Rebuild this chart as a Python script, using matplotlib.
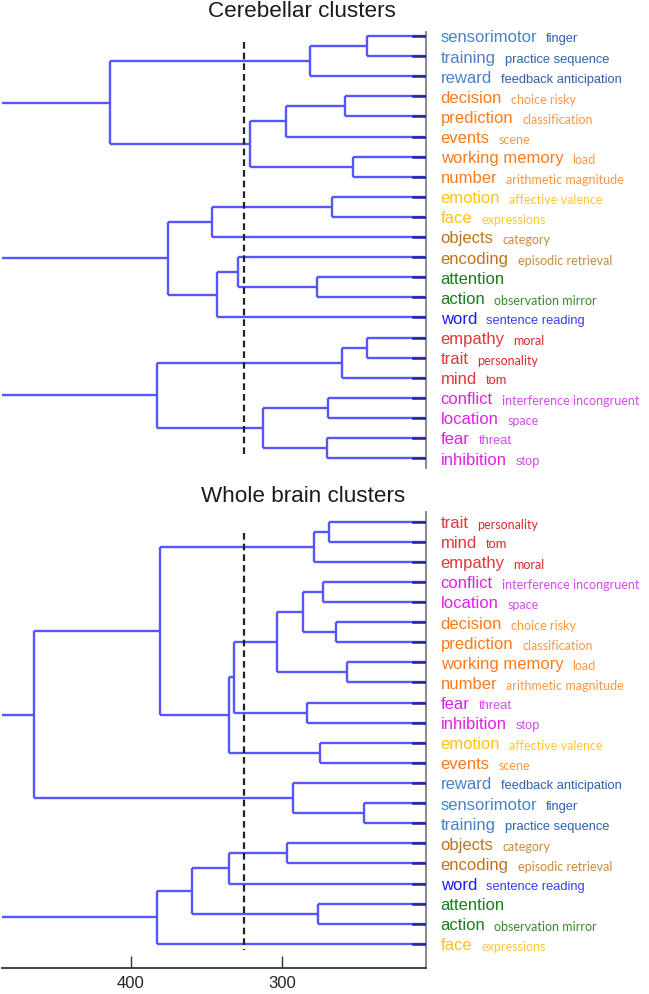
import matplotlib
matplotlib.use("Agg")
import matplotlib.pyplot as plt

plt.rcParams['font.family'] = ['Liberation Sans', 'DejaVu Sans']

# ---------------- data ----------------
term_sub = {
    "sensorimotor": "finger", "training": "practice sequence", "reward": "feedback anticipation",
    "decision": "choice risky", "prediction": "classification", "events": "scene",
    "working memory": "load", "number": "arithmetic magnitude",
    "emotion": "affective valence", "face": "expressions",
    "objects": "category", "encoding": "episodic retrieval",
    "attention": "", "action": "observation mirror",
    "word": "sentence reading",
    "empathy": "moral", "trait": "personality", "mind": "tom",
    "conflict": "interference incongruent", "location": "space", "fear": "threat", "inhibition": "stop",
}
term_cat = {
    "sensorimotor": "motor", "training": "motor", "reward": "motor",
    "decision": "exec", "prediction": "exec", "events": "exec", "working memory": "exec", "number": "exec",
    "emotion": "emo", "face": "emo",
    "objects": "obj", "encoding": "obj",
    "attention": "att", "action": "att",
    "word": "lang",
    "empathy": "soc", "trait": "soc", "mind": "soc",
    "conflict": "ctrl", "location": "ctrl", "fear": "ctrl", "inhibition": "ctrl",
}
main_colors = {"motor": "#4a82c8", "exec": "#ff7a1a", "emo": "#ffc21a", "obj": "#c0741a",
               "att": "#1e7a1e", "lang": "#1a1aff", "soc": "#e0383c", "ctrl": "#e020e8"}
sub_colors = {"motor": "#3060b0", "exec": "#ff9640", "emo": "#ffc830", "obj": "#cc8a3a",
              "att": "#3a8a2a", "lang": "#3b3bff", "soc": "#dd2a2a", "ctrl": "#d64af0"}
arial_subs = {"finger", "practice sequence", "feedback anticipation", "sentence reading",
              "tom", "threat", "stop"}

cereb_title = "Cerebellar clusters"
cereb_leaves = ["sensorimotor", "training", "reward", "decision", "prediction", "events",
                "working memory", "number", "emotion", "face", "objects", "encoding",
                "attention", "action", "word", "empathy", "trait", "mind",
                "conflict", "location", "fear", "inhibition"]
# linkage rows: (child a, child b, merge height); new nodes numbered from len(leaves)
cereb_links = [
    (0, 1, 243.5), (22, 2, 281.7), (3, 4, 258.1), (24, 5, 297.4), (6, 7, 253.2),
    (25, 26, 321.2), (23, 27, 413.9), (8, 9, 266.7), (29, 10, 346.4), (12, 13, 276.6),
    (11, 31, 328.9), (32, 14, 343.0), (30, 33, 375.7), (15, 16, 243.8), (35, 17, 260.3),
    (18, 19, 269.3), (20, 21, 270.0), (37, 38, 312.8), (36, 39, 382.8),
    (28, 34, 520.0), (41, 40, 540.0),
]

whole_title = "Whole brain clusters"
whole_leaves = ["trait", "mind", "empathy", "conflict", "location", "decision", "prediction",
                "working memory", "number", "fear", "inhibition", "emotion", "events",
                "reward", "sensorimotor", "training", "objects", "encoding", "word",
                "attention", "action", "face"]
whole_links = [
    (0, 1, 268.7), (22, 2, 278.6), (3, 4, 272.6), (5, 6, 264.2), (24, 25, 285.9),
    (7, 8, 257.2), (26, 27, 303.3), (9, 10, 283.6), (28, 29, 332.0), (11, 12, 274.6),
    (30, 31, 334.9), (23, 32, 380.6), (14, 15, 245.9), (13, 34, 292.7), (33, 35, 464.4),
    (16, 17, 296.7), (37, 18, 335.3), (19, 20, 276.0), (38, 39, 359.6), (40, 21, 383.0),
    (36, 41, 520.0),
]

threshold = 325
x_left, x_right = 485.4, 204.6
xticks = [400, 300]

# ---------------- drawing ----------------
W, H = 649, 994
fig = plt.figure(figsize=(W / 100, H / 100), dpi=100)

LINE = "#5656ff"
STUB = "#24249e"


def px_axes(x0, y0, x1, y1):
    return fig.add_axes([x0 / W, 1 - y1 / H, (x1 - x0) / W, (y1 - y0) / H])


def draw_dendro(ax, leaves, links, ylim, dash_y):
    n = len(leaves)
    pos = {i: (x_right - 5, float(i)) for i in range(n)}
    for k, (a, b, h) in enumerate(links):
        xa, ya = pos[a]
        xb, yb = pos[b]
        ax.plot([xa, h], [ya, ya], color=LINE, lw=1.7, solid_capstyle='butt', zorder=2)
        ax.plot([xb, h], [yb, yb], color=LINE, lw=1.7, solid_capstyle='butt', zorder=2)
        ax.plot([h, h], [ya, yb], color=LINE, lw=1.7, solid_capstyle='butt', zorder=2)
        pos[n + k] = (h, (ya + yb) / 2)
    for i in range(n):
        ax.plot([x_right + 8.5, x_right], [i, i], color=STUB, lw=1.8, zorder=3)
    ax.plot([threshold, threshold], dash_y, color="#222222", lw=1.6,
            dashes=(3, 1.8), zorder=4)
    ax.set_xlim(x_left, x_right)
    ax.set_ylim(*ylim)
    for s in ("top", "left"):
        ax.spines[s].set_visible(False)
    ax.spines["right"].set_color("#808080")
    ax.spines["right"].set_linewidth(1.3)
    ax.set_yticks([])

    for i, term in enumerate(leaves):
        cat = term_cat[term]
        m = ax.annotate(term, xy=(1, i), xycoords=("axes fraction", "data"),
                        xytext=(10.5, -4.6), textcoords="offset points",
                        ha="left", va="baseline", fontsize=12.0,
                        color=main_colors[cat], annotation_clip=False)
        sub = term_sub[term]
        if sub:
            fam = ['Liberation Sans'] if sub in arial_subs else ['Lato', 'DejaVu Sans']
            size = 9.3 if sub in arial_subs else 9.0
            ax.annotate(sub, xy=(1, 0), xycoords=m, xytext=(6.5, 0),
                        textcoords="offset points", ha="left", va="bottom",
                        fontsize=size, color=sub_colors[cat], family=fam,
                        annotation_clip=False)


ax1 = px_axes(2, 32, 426, 468)
draw_dendro(ax1, cereb_leaves, cereb_links, (21.49, -0.2), [0.3, 21.0])
ax1.spines["bottom"].set_visible(False)
ax1.set_xticks([])

ax2 = px_axes(2, 512, 426, 968)
draw_dendro(ax2, whole_leaves, whole_links, (22.2, -0.48), [0.56, 21.3])
ax2.spines["bottom"].set_color("#333333")
ax2.spines["bottom"].set_linewidth(1.3)
ax2.set_xticks(xticks)
ax2.tick_params(axis="x", direction="in", length=9, width=1, colors="#333333",
                labelsize=12, pad=6, labelcolor="#222222")

fig.text(302 / W, 1 - 17 / H, cereb_title, ha="center", va="baseline",
         fontsize=16.2, color="#1a1a1a")
fig.text(303 / W, 1 - 502 / H, whole_title, ha="center", va="baseline",
         fontsize=16.2, color="#1a1a1a")

fig.savefig("out.png", dpi=100)
